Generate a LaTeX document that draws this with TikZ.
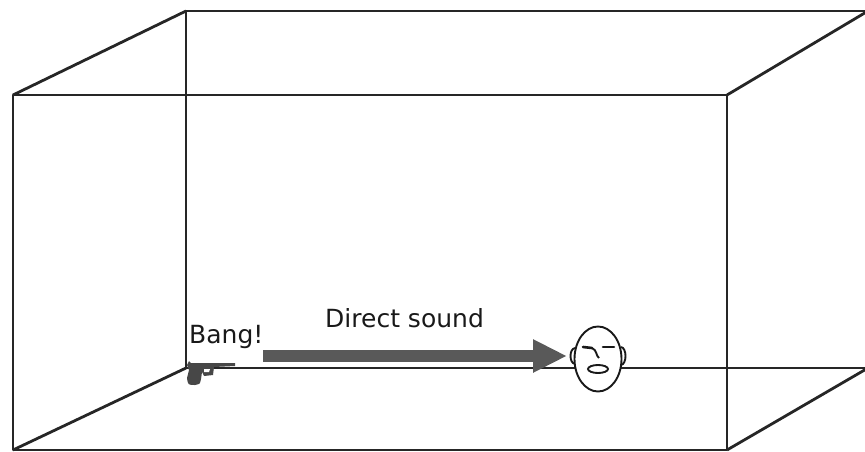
\documentclass[tikz,border=0pt]{standalone}
\usepackage{fontspec}
\setmainfont{DejaVu Sans}
\usetikzlibrary{arrows.meta}
\usetikzlibrary{positioning}
\usetikzlibrary{calc}
\def\roomW{865}
\def\roomH{452}

\begin{document}
\begin{tikzpicture}[x=1pt,y=-1pt,
        edge/.style={line width=2.8pt, black!85, line join=round},
        face/.style={line width=1.9pt, black!90},
        label/.style={inner sep=0pt, text=black!90, font=\fontsize{25}{25}\selectfont}]
        \useasboundingbox (0,0) rectangle (\roomW,\roomH);
        \clip (0,0) rectangle (\roomW,\roomH);

        % front and back walls of the room
        \coordinate (f1) at (13,95);
        \coordinate (f2) at (727,95);
        \coordinate (f3) at (727,450);
        \coordinate (f4) at (13,450);
        \coordinate (b1) at (186,11);
        \coordinate (b2) at (868,11);
        \coordinate (b3) at (868,368);
        \coordinate (b4) at (186,368);

        \draw[edge] (b1) -- (b2) -- (b3) -- (b4) -- cycle;
        \draw[edge] (f1) -- (f2) -- (f3) -- (f4) -- cycle;
        \draw[edge] (f1) -- (b1);
        \draw[edge] (f2) -- (b2);
        \draw[edge] (f3) -- (b3);
        \draw[edge] (f4) -- (b4);

        % the pistol in the corner
        \begin{scope}[shift={(b4)}]
            \fill[black!72] (3,-7) -- (5,-5) -- (49,-5) -- (49,-2) -- (28,-1)
            -- (27,7) -- (18,8) -- (16,4) -- (15,11) .. controls (14,16) ..
            (9,17) .. controls (2,17) .. (1,10) -- (3,2) -- (1,-3) -- cycle;
            \fill[white] (18,1) -- (24,1) -- (23,4) -- (18,4) -- cycle;
        \end{scope}
        \coordinate (src) at (263,356);

        % the listener
        \coordinate (dst) at (567,356);
        \begin{scope}[shift={(598,359)}]
            \draw[face] (-23,-11) .. controls (-29,-10) and (-29,4) .. (-23,5);
            \draw[face] (23,-12) .. controls (29,-11) and (29,5) .. (23,6);
            \filldraw[face, fill=white] (0,0) ellipse (23.5 and 32.5);
            \draw[face, line width=2.6pt, line cap=round] (-15,-12) -- (-6,-11);
            \draw[face, line width=2.6pt, line cap=round] (5,-12) -- (16,-12);
            \draw[face] (-6,-11) .. controls (-1,-9) and (-2,-3) .. (1,-1);
            \draw[face] (0,10) ellipse (10 and 4);
        \end{scope}

        \draw[line width=12pt, black!65,
            -{Triangle[length=34pt,width=31pt]}] (src) -- (dst);

        \node[label, anchor=base west] (bang) at (189,343) {Bang!};
        \node[label, anchor=base west] (direct) at (325,327) {Direct sound};
    \end{tikzpicture}
\end{document}
